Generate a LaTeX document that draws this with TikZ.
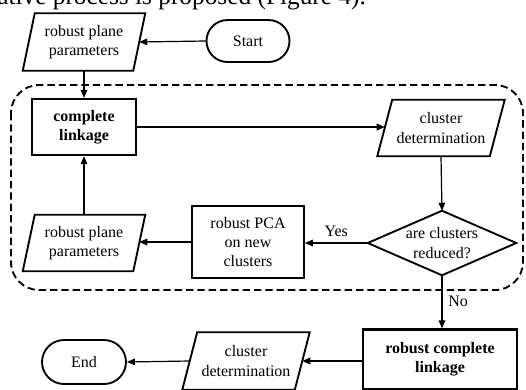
\documentclass[tikz,border=0pt]{standalone}
\usepackage{fontspec}
\setmainfont{Liberation Serif}
\usetikzlibrary{arrows.meta,calc,shapes.misc}
\newcommand\drawpara[2]{\draw[shapeline] ([xshift=#2]#1.north west) -- ([xshift=#2]#1.north east) -- ([xshift=-#2]#1.south east) -- ([xshift=-#2]#1.south west) -- cycle;}
\begin{document}
\begin{tikzpicture}[x=0.75pt,y=-0.75pt,
  font=\fontsize{12}{14.5}\selectfont,
  shapeline/.style={draw,line width=1.4pt,line join=miter},
  boldbox/.style={draw,line width=1.8pt,align=center,inner sep=0pt,font=\fontsize{12}{14.5}\selectfont\bfseries},
  plainbox/.style={draw,line width=1.4pt,align=center,inner sep=0pt},
  ghost/.style={align=center,inner sep=0pt},
  term/.style={draw,rounded rectangle,line width=1.4pt,inner sep=0pt},
  conn/.style={line width=0.9pt,-{Triangle[length=6pt,width=5pt]}},
  loopline/.style={line width=1.4pt,dash pattern=on 5.5pt off 3pt,rounded corners=21pt}
]
\useasboundingbox (0,0) rectangle (526,390);
\clip (0,0) rectangle (526,390);

% cut-off line of body text at the top
\node[anchor=base west,inner sep=0pt,font=\fontsize{19}{22}\selectfont] (bodytext) at (-3,4) {ative process is proposed (Figure 4).};

% dashed loop region
\draw[loopline] (11,85) rectangle (523,290);

% nodes
\node[ghost,minimum width=82.5pt,minimum height=42.75pt] (rpp1) at (84,42) {robust plane\\parameters};
\drawpara{rpp1}{4.5pt}
\node[term,minimum width=62.25pt,minimum height=31.5pt] (start) at (248,41) {Start};
\node[boldbox,minimum width=78pt,minimum height=42pt] (cl) at (84,127) {complete\\linkage};
\node[ghost,minimum width=84pt,minimum height=42pt] (cd1) at (441,128) {cluster\\determination};
\drawpara{cd1}{5.6pt}
\node[ghost,minimum width=111pt,minimum height=48pt] (dia) at (442,243) {are clusters\\reduced?};
\draw[shapeline] (dia.north) -- (dia.east) -- (dia.south) -- (dia.west) -- cycle;
\node[plainbox,minimum width=84pt,minimum height=54pt] (pca) at (248,242) {robust PCA\\on new\\clusters};
\node[ghost,minimum width=82.5pt,minimum height=42pt] (rpp2) at (84,243) {robust plane\\parameters};
\drawpara{rpp2}{4.5pt}
\node[boldbox,minimum width=115.5pt,minimum height=45pt] (rcl) at (440,359.5) {robust complete\\linkage};
\node[ghost,minimum width=84pt,minimum height=42.75pt] (cd2) at (246,361) {cluster\\determination};
\drawpara{cd2}{5.6pt}
\node[term,minimum width=63pt,minimum height=33pt] (end) at (84,362) {End};

% connectors
\draw[conn] (start.west) -- (rpp1.east);
\draw[conn] (rpp1.south) -- (cl.north);
\draw[conn] (cl.east) -- (cl.east -| cd1.west);
\draw[conn] (cd1.south) -- (dia.north);
\draw[conn] (dia.west) -- node[above,pos=0.5,yshift=1pt] (yes) {Yes} (dia.west -| pca.east);
\draw[conn] (pca.west) -- (pca.west -| rpp2.east);
\draw[conn] (rpp2.north) -- (cl.south);
\draw[conn] (dia.south) -- node[right,pos=0.5,xshift=1pt] (no) {No} (dia.south |- rcl.north);
\draw[conn] (rcl.west |- cd2.east) -- (cd2.east);
\draw[conn] (cd2.west) -- (end.east);
\end{tikzpicture}
\end{document}
